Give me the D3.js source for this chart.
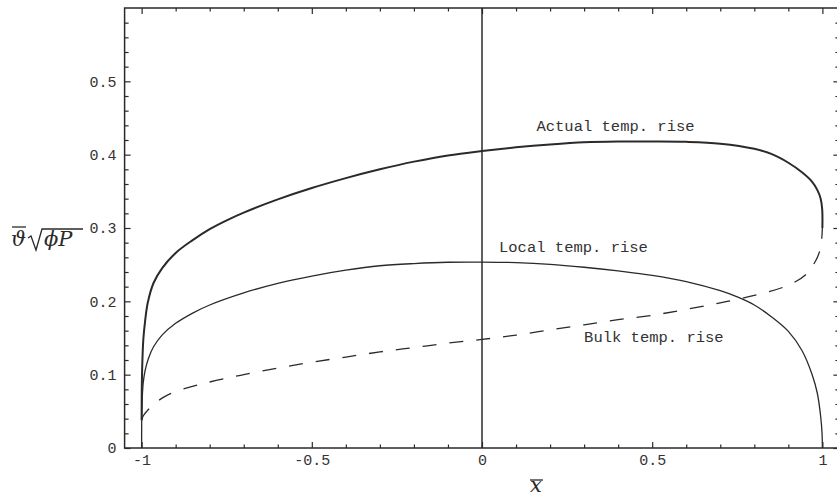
<!DOCTYPE html>
<html><head><meta charset="utf-8">
<script src="https://cdn.jsdelivr.net/npm/d3@7"></script>
<style>
html,body{margin:0;padding:0;background:#fff;}
svg{display:block;}
text{font-family:"Liberation Mono","DejaVu Sans Mono",monospace;}
</style></head>
<body>
<script>
// ---- data ----
const actualX = [-1, -0.9995, -0.998, -0.995, -0.99, -0.982, -0.965, -0.94, -0.9, -0.85, -0.8, -0.75, -0.7, -0.6, -0.5, -0.4, -0.3, -0.2, -0.1, 0, 0.1, 0.2, 0.3, 0.4, 0.5, 0.6, 0.7, 0.8, 0.85, 0.9, 0.94, 0.97, 0.985, 0.995, 0.9995, 1];
const actualY = [0.038, 0.08, 0.115, 0.148, 0.172, 0.198, 0.225, 0.245, 0.266, 0.2835, 0.2985, 0.3105, 0.321, 0.339, 0.3545, 0.368, 0.380, 0.3905, 0.399, 0.405, 0.410, 0.414, 0.417, 0.418, 0.418, 0.4175, 0.415, 0.408, 0.401, 0.389, 0.376, 0.363, 0.352, 0.340, 0.325, 0.300];
const localX = [-1, -0.9995, -0.998, -0.995, -0.99, -0.98, -0.965, -0.94, -0.9, -0.85, -0.8, -0.7, -0.6, -0.5, -0.4, -0.3, -0.2, -0.1, 0, 0.1, 0.2, 0.3, 0.4, 0.5, 0.6, 0.7, 0.75, 0.8, 0.85, 0.9, 0.94, 0.97, 0.985, 0.995, 0.999, 1];
const localY = [0, 0.045, 0.07, 0.09, 0.105, 0.122, 0.138, 0.154, 0.170, 0.184, 0.195, 0.2115, 0.2245, 0.2345, 0.2425, 0.2485, 0.2515, 0.2533, 0.2535, 0.2528, 0.2505, 0.2465, 0.2415, 0.2355, 0.2270, 0.2145, 0.206, 0.195, 0.179, 0.159, 0.133, 0.100, 0.075, 0.043, 0.02, 0];
const bulkX = [-1, -0.995, -0.985, -0.97, -0.94, -0.9, -0.8, -0.7, -0.6, -0.5, -0.4, -0.3, -0.2, -0.1, 0, 0.1, 0.2, 0.3, 0.4, 0.5, 0.6, 0.7, 0.8, 0.9, 0.95, 0.98, 0.993, 0.998, 1];
const bulkY = [0.038, 0.044, 0.050, 0.057, 0.068, 0.077, 0.090, 0.100, 0.109, 0.117, 0.124, 0.131, 0.137, 0.143, 0.148, 0.154, 0.161, 0.168, 0.175, 0.181, 0.189, 0.198, 0.208, 0.222, 0.236, 0.255, 0.270, 0.285, 0.300];

const xMajorTicks = [-1, -0.5, 0, 0.5, 1];
const xTickLabels = ["-1", "-0.5", "0", "0.5", "1"];
const xMinorTicks = [-0.9,-0.8,-0.7,-0.6,-0.4,-0.3,-0.2,-0.1,0.1,0.2,0.3,0.4,0.6,0.7,0.8,0.9];
const yMajorTicks = [0, 0.1, 0.2, 0.3, 0.4, 0.5];
const yTickLabels = ["0", "0.1", "0.2", "0.3", "0.4", "0.5"];
const yMinorTicks = [0.02,0.04,0.06,0.08,0.12,0.14,0.16,0.18,0.22,0.24,0.26,0.28,0.32,0.34,0.36,0.38,0.42,0.44,0.46,0.48,0.52,0.54,0.56,0.58];

const seriesLabels = [
  {text: "Actual temp. rise", x: 0.16, y: 0.432},
  {text: "Local temp. rise", x: 0.05, y: 0.267},
  {text: "Bulk temp. rise", x: 0.30, y: 0.144}
];

// ---- drawing ----
const W = 837, H = 497;
const svg = d3.select("body").append("svg").attr("width", W).attr("height", H);
const x = d3.scaleLinear().domain([-1.05, 1.05]).range([124.6, 839.4]);
const y = d3.scaleLinear().domain([0, 0.6]).range([448, 8]);
const ink = "#2a2a2a";

// frame
svg.append("rect").attr("x", x(-1.05)).attr("y", y(0.6))
  .attr("width", x(1.05) - x(-1.05)).attr("height", y(0) - y(0.6))
  .attr("fill", "none").attr("stroke", ink).attr("stroke-width", 1.5);

function styleAxis(g){ g.select(".domain").remove(); g.selectAll("line").attr("stroke", ink).attr("stroke-width", 1.2);
  g.selectAll("text").attr("fill", "#333").style("font-size", "15px").style("font-family", '"Liberation Mono",monospace'); }

// bottom
svg.append("g").attr("transform", `translate(0,${y(0)})`)
  .call(d3.axisBottom(x).tickValues(xMajorTicks).tickSize(-6).tickPadding(6).tickFormat((d,i)=>xTickLabels[i])).call(styleAxis);
svg.append("g").attr("transform", `translate(0,${y(0)})`)
  .call(d3.axisBottom(x).tickValues(xMinorTicks).tickSize(-3.5).tickFormat("")).call(styleAxis);
// top
svg.append("g").attr("transform", `translate(0,${y(0.6)})`)
  .call(d3.axisTop(x).tickValues(xMajorTicks).tickSize(-6).tickFormat("")).call(styleAxis);
svg.append("g").attr("transform", `translate(0,${y(0.6)})`)
  .call(d3.axisTop(x).tickValues(xMinorTicks).tickSize(-3.5).tickFormat("")).call(styleAxis);
// left
svg.append("g").attr("transform", `translate(${x(-1.05)},0)`)
  .call(d3.axisLeft(y).tickValues(yMajorTicks).tickSize(-6).tickPadding(8).tickFormat((d,i)=>yTickLabels[i])).call(styleAxis);
svg.append("g").attr("transform", `translate(${x(-1.05)},0)`)
  .call(d3.axisLeft(y).tickValues(yMinorTicks).tickSize(-4).tickFormat("")).call(styleAxis);
// right
svg.append("g").attr("transform", `translate(${x(1.05)},0)`)
  .call(d3.axisRight(y).tickValues(yMajorTicks).tickSize(-6).tickFormat("")).call(styleAxis);
svg.append("g").attr("transform", `translate(${x(1.05)},0)`)
  .call(d3.axisRight(y).tickValues(yMinorTicks).tickSize(-4).tickFormat("")).call(styleAxis);

// vertical line at x = 0
svg.append("line").attr("x1", x(0)).attr("x2", x(0)).attr("y1", y(0)).attr("y2", y(0.6))
  .attr("stroke", ink).attr("stroke-width", 1.5);

const line = d3.line().x(d => x(d[0])).y(d => y(d[1])).curve(d3.curveCatmullRom.alpha(0.5));
const pts = (xs, ys) => xs.map((v, i) => [v, ys[i]]);

svg.append("path").datum(pts(localX, localY)).attr("d", line)
  .attr("fill", "none").attr("stroke", ink).attr("stroke-width", 1.3);
svg.append("path").datum(pts(bulkX, bulkY)).attr("d", line)
  .attr("fill", "none").attr("stroke", ink).attr("stroke-width", 1.3).attr("stroke-dasharray", "14,13");
svg.append("path").datum(pts(actualX, actualY)).attr("d", line)
  .attr("fill", "none").attr("stroke", ink).attr("stroke-width", 2);

// series labels
svg.selectAll("text.lab").data(seriesLabels).enter().append("text").attr("class", "lab")
  .attr("x", d => x(d.x)).attr("y", d => y(d.y)).text(d => d.text)
  .attr("fill", "#333").style("font-size", "15.5px");

// y-axis label: overline-theta * sqrt(phi P)
const serif = '"DejaVu Serif","Liberation Serif",serif';
const yl = svg.append("g").attr("class", "ylabel");
yl.append("text").attr("x", 11).attr("y", 246).text("ϑ")
  .style("font-family", serif).style("font-style", "italic").style("font-size", "21px").attr("fill", ink);
yl.append("line").attr("x1", 12).attr("x2", 26).attr("y1", 227).attr("y2", 227).attr("stroke", ink).attr("stroke-width", 1.3);
yl.append("path").attr("d", "M28,238 L31,236 L36,250 L42,229 L83,229").attr("fill", "none").attr("stroke", ink).attr("stroke-width", 1.3);
yl.append("text").attr("x", 44).attr("y", 246).text("ϕP")
  .style("font-family", serif).style("font-style", "italic").style("font-size", "21px").attr("fill", ink);

// x-axis label: overline x
const xl = svg.append("g").attr("class", "xlabel");
xl.append("text").attr("x", 530).attr("y", 492).text("x")
  .style("font-family", serif).style("font-style", "italic").style("font-size", "21px").attr("fill", ink);
xl.append("line").attr("x1", 530).attr("x2", 543).attr("y1", 480).attr("y2", 480).attr("stroke", ink).attr("stroke-width", 1.3);
</script>
</body></html>
